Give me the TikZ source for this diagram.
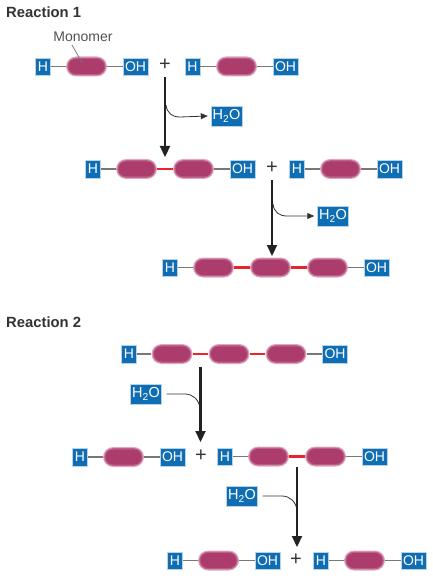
\documentclass[tikz,border=0pt]{standalone}
\usepackage{fontspec}
\setmainfont{Liberation Sans}
\usetikzlibrary{arrows.meta}
\definecolor{boxblue}{HTML}{0F6DB3}
\definecolor{monodark}{HTML}{AC3C6B}
\definecolor{monomid}{HTML}{BE6089}
\definecolor{monolight}{HTML}{DDA9BF}
\definecolor{bondred}{HTML}{E8242C}
\definecolor{linegray}{HTML}{777777}
\definecolor{arrowblack}{HTML}{222222}
\definecolor{inkgray}{HTML}{333333}
\tikzset{
  x=1pt,y=-1pt,
  endbox/.style={fill=boxblue,draw=boxblue!30!white,line width=0.4pt,text=white,font=\fontsize{14}{15}\selectfont,inner sep=0pt,minimum height=17.5pt,anchor=center},
  hbox/.style={endbox,minimum width=15pt},
  ohbox/.style={endbox,minimum width=25pt},
  waterbox/.style={endbox,minimum width=31pt,minimum height=20pt,font=\fontsize{14.5}{15}\selectfont},
  mono/.style={fill=monolight,rounded corners=10pt,minimum width=41pt,minimum height=20pt,inner sep=0pt},
  monoring/.style={fill=monomid,rounded corners=8.8pt,minimum width=38.6pt,minimum height=17.6pt,inner sep=0pt},
  monocore/.style={fill=monodark,rounded corners=7.5pt,minimum width=36pt,minimum height=15pt,inner sep=0pt},
  plain/.style={draw=linegray,line width=1.1pt},
  bond/.style={draw=bondred,line width=2.2pt},
  mainarrow/.style={draw=arrowblack,line width=2.2pt,-{Triangle[length=11pt,width=10pt]}},
  thin curve/.style={draw=inkgray,line width=0.8pt},
  curvearrow/.style={thin curve,-{Triangle[length=7pt,width=6pt]}},
  plussign/.style={font=\fontsize{20}{20}\selectfont,text=inkgray,inner sep=0pt},
  heading/.style={font=\bfseries\fontsize{14.8}{16}\selectfont,text=inkgray,anchor=west,inner sep=0pt},
}
\newcommand{\monomer}[3]{%
  \node[mono] (#1) at (#2,#3) {};
  \node[monoring] at (#2,#3) {};
  \node[monocore] at (#2,#3) {};}
\begin{document}
\begin{tikzpicture}
\useasboundingbox (0,0) rectangle (432,585);
\fill[white] (0,0) rectangle (432,585);

\node[heading] (r1) at (6,12.5) {Reaction 1};
\node[heading] (r2) at (6,322) {Reaction 2};

% row A
\node[hbox] (ah1) at (43,66.5) {H};
\monomer{am1}{86.5}{66.5}
\node[ohbox] (ao1) at (135.5,66.5) {OH};
\node[plussign] (ap) at (165,64.5) {+};
\node[hbox] (ah2) at (192.5,66.5) {H};
\monomer{am2}{236.5}{66.5}
\node[ohbox] (ao2) at (285.5,66.5) {OH};
\draw[plain] (ah1) -- (am1);
\draw[plain] (am1) -- (ao1);
\draw[plain] (ah2) -- (am2);
\draw[plain] (am2) -- (ao2);
\node[font=\fontsize{14}{15}\selectfont,text=inkgray!85!white,inner sep=0pt] (mlabel) at (83,36.5) {Monomer};
\coordinate (mtip) at (82,62.5);
\draw[linegray,line width=0.8pt] (72,45) -- (mtip);

% row B
\node[hbox] (bh1) at (93,169) {H};
\monomer{bm1}{136.5}{169}
\monomer{bm2}{193.5}{169}
\node[ohbox] (bo1) at (242.5,169) {OH};
\node[plussign] (bp) at (272,168) {+};
\node[hbox] (bh2) at (297,169) {H};
\monomer{bm3}{340.5}{169}
\node[ohbox] (bo2) at (389.5,169) {OH};
\draw[plain] (bh1) -- (bm1);
\draw[bond] (bm1) -- (bm2);
\draw[plain] (bm2) -- (bo1);
\draw[plain] (bh2) -- (bm3);
\draw[plain] (bm3) -- (bo2);

% row C
\node[hbox] (ch) at (170,267.5) {H};
\monomer{cm1}{213.5}{267.5}
\monomer{cm2}{270.5}{267.5}
\monomer{cm3}{327.5}{267.5}
\node[ohbox] (co) at (376.5,267.5) {OH};
\draw[plain] (ch) -- (cm1);
\draw[bond] (cm1) -- (cm2);
\draw[bond] (cm2) -- (cm3);
\draw[plain] (cm3) -- (co);

% row D
\node[hbox] (dh) at (129,354) {H};
\monomer{dm1}{172}{354}
\monomer{dm2}{229}{354}
\monomer{dm3}{286}{354}
\node[ohbox] (do) at (335,354) {OH};
\draw[plain] (dh) -- (dm1);
\draw[bond] (dm1) -- (dm2);
\draw[bond] (dm2) -- (dm3);
\draw[plain] (dm3) -- (do);

% row E
\node[hbox] (eh1) at (80,457) {H};
\monomer{em1}{123.5}{457}
\node[ohbox] (eo1) at (172.5,457) {OH};
\node[plussign] (ep) at (201,456) {+};
\node[hbox] (eh2) at (225,456.5) {H};
\monomer{em2}{268.5}{456.5}
\monomer{em3}{325.5}{456.5}
\node[ohbox] (eo2) at (374.5,456.5) {OH};
\draw[plain] (eh1) -- (em1);
\draw[plain] (em1) -- (eo1);
\draw[plain] (eh2) -- (em2);
\draw[bond] (em2) -- (em3);
\draw[plain] (em3) -- (eo2);

% row F
\node[hbox] (fh1) at (175,560.5) {H};
\monomer{fm1}{218.5}{560.5}
\node[ohbox] (fo1) at (267.5,560.5) {OH};
\node[plussign] (fp) at (296,560) {+};
\node[hbox] (fh2) at (321,560.5) {H};
\monomer{fm2}{364.5}{560.5}
\node[ohbox] (fo2) at (413.5,560.5) {OH};
\draw[plain] (fh1) -- (fm1);
\draw[plain] (fm1) -- (fo1);
\draw[plain] (fh2) -- (fm2);
\draw[plain] (fm2) -- (fo2);

% water boxes
\node[waterbox] (w1) at (226.5,116) {H\textsubscript{2}O};
\node[waterbox] (w2) at (333,216) {H\textsubscript{2}O};
\node[waterbox] (w3) at (146,394) {H\textsubscript{2}O};
\node[waterbox] (w4) at (242,496) {H\textsubscript{2}O};

% anchors for main arrows
\coordinate (a1s) at (165,77);  \coordinate (a1e) at (165,157);
\coordinate (a2s) at (272,180); \coordinate (a2e) at (272,256);
\coordinate (a3s) at (200.5,367); \coordinate (a3e) at (200.5,442);
\coordinate (a4s) at (297,467); \coordinate (a4e) at (297,547);
\coordinate (j1) at (166,105);
\coordinate (j2) at (273,204);
\coordinate (j3) at (200,408);
\coordinate (j4) at (297,510);

% curved side arrows
\draw[curvearrow] (j1) .. controls (167,113) and (172,117) .. (180,117) -- ([xshift=-3pt]w1.west);
\draw[curvearrow] (j2) .. controls (274,212) and (279,216) .. (287,216) -- ([xshift=-3pt]w2.west);
\draw[thin curve] ([xshift=5pt]w3.east) -- (185,394) .. controls (193,394) and (199,400) .. (j3);
\draw[thin curve] ([xshift=5pt]w4.east) -- (282,496) .. controls (290,496) and (296,502) .. (j4);

% main arrows
\draw[mainarrow] (a1s) -- (a1e);
\draw[mainarrow] (a2s) -- (a2e);
\draw[mainarrow] (a3s) -- (a3e);
\draw[mainarrow] (a4s) -- (a4e);
\end{tikzpicture}
\end{document}
